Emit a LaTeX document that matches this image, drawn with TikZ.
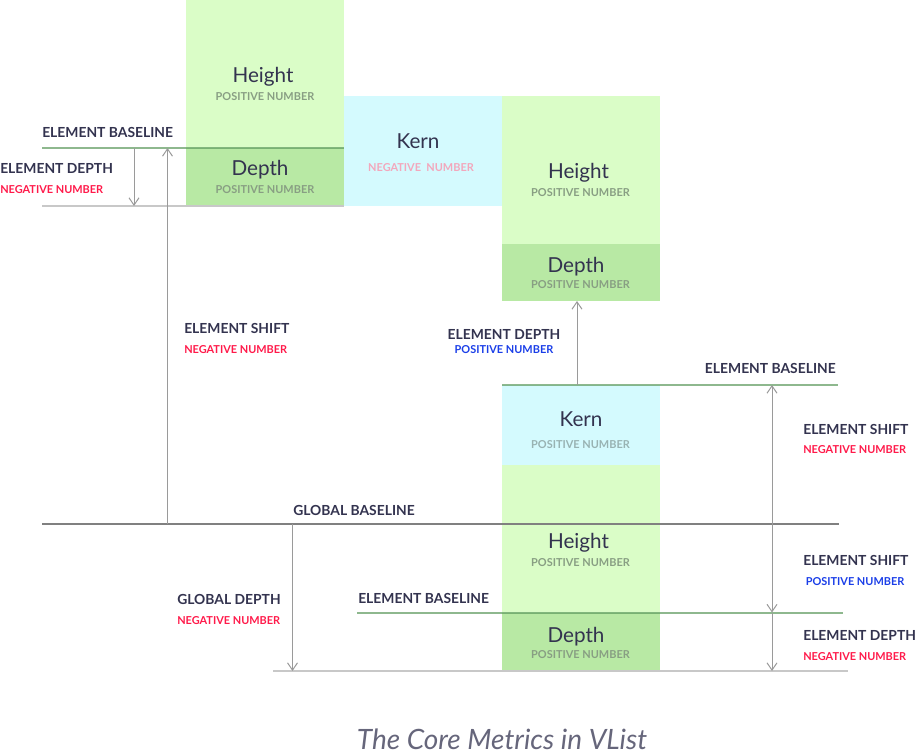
\documentclass[tikz,border=0pt]{standalone}
\usepackage{fontspec}
\setmainfont{Lato}
\usetikzlibrary{arrows.meta}
\definecolor{hgreen}{HTML}{DAFDC7}
\definecolor{dgreen}{HTML}{B8E9A4}
\definecolor{kcyan}{HTML}{D4FAFE}
\definecolor{navy}{HTML}{33334F}
\definecolor{negred}{HTML}{FF1A4A}
\definecolor{posblue}{HTML}{1A3EE8}
\definecolor{boxgray}{HTML}{889E83}
\definecolor{kerngray}{HTML}{98B2B2}
\definecolor{kernpink}{HTML}{F3A7BC}
\definecolor{baseg}{HTML}{5E9A5E}
\definecolor{lightline}{HTML}{C8C8C8}
\definecolor{darkline}{HTML}{808080}
\definecolor{dimgray}{HTML}{9A9A9A}

\begin{document}
\begin{tikzpicture}[x=0.75pt,y=-0.75pt,
    every node/.style={inner sep=0pt},
    big/.style={font=\fontsize{15.5}{18}\selectfont,text=navy,anchor=base},
    sub/.style={font=\bfseries\fontsize{8.2}{10}\selectfont,anchor=base},
    subl/.style={sub,anchor=base west},
    lbl/.style={font=\bfseries\fontsize{10.4}{12}\selectfont,text=navy,anchor=base west},
    elbase/.style={draw=baseg,draw opacity=0.7,line width=1.5pt},
    lowline/.style={draw=lightline,line width=1.5pt},
    globline/.style={draw=darkline,line width=1.5pt}]
    \useasboundingbox (0,0) rectangle (916,755);

    % boxes
    \fill[hgreen] (186,0) rectangle (344,148);
    \fill[dgreen] (186,148) rectangle (344,206);
    \fill[kcyan] (344,96) rectangle (502,206);
    \fill[hgreen] (502,96) rectangle (660,244);
    \fill[dgreen] (502,244) rectangle (660,301);
    \fill[kcyan] (502,385) rectangle (660,465);
    \fill[hgreen] (502,465) rectangle (660,612.5);
    \fill[dgreen] (502,612.5) rectangle (660,671);

    % line ends
    \coordinate (eb1w) at (42,148);   \coordinate (eb1e) at (344,148);
    \coordinate (ed1w) at (42,206);   \coordinate (ed1e) at (344,206);
    \coordinate (eb2w) at (502,385);  \coordinate (eb2e) at (838,385);
    \coordinate (gbw) at (42,524);    \coordinate (gbe) at (839,524);
    \coordinate (eb3w) at (357,612.5); \coordinate (eb3e) at (843,612.5);
    \coordinate (gdw) at (273,671);   \coordinate (gde) at (848,671);

    \draw[elbase] (eb1w) -- (eb1e);
    \draw[lowline] (ed1w) -- (ed1e);
    \draw[elbase] (eb2w) -- (eb2e);
    \draw[globline] (gbw) -- (gbe);
    \draw[elbase] (eb3w) -- (eb3e);
    \draw[lowline] (gdw) -- (gde);

    % arrow ends
    \coordinate (dep1a) at (134,148);   \coordinate (dep1b) at (134,206);
    \coordinate (sh1a) at (167.5,524);  \coordinate (sh1b) at (167.5,148);
    \coordinate (dep2a) at (577,385);   \coordinate (dep2b) at (577,301);
    \coordinate (gdepa) at (292.5,524); \coordinate (gdepb) at (292.5,671);
    \coordinate (sh2a) at (772,524);    \coordinate (sh2b) at (772,385);
    \coordinate (sh3b) at (772,612.5);  \coordinate (dep3b) at (772,671);

    \begin{scope}[>={Straight Barb[length=5.5pt,width=7.5pt]},
        every edge/.style={draw=dimgray,line width=0.75pt}]
        \path [->] (dep1a) edge (dep1b);
        \path [->] (sh1a) edge (sh1b);
        \path [->] (dep2a) edge (dep2b);
        \path [->] (gdepa) edge (gdepb);
        \path [->] (sh2a) edge (sh2b);
        \path [->] (sh2a) edge (sh3b);
        \path [->] (sh3b) edge (dep3b);
    \end{scope}

    % box texts
    \node[big] (h1) at (263,83) {Height};
    \node[sub,text=boxgray] (h1n) at (265,101) {POSITIVE NUMBER};
    \node[big] (d1) at (260,176) {Depth};
    \node[sub,text=boxgray] (d1n) at (265,194) {POSITIVE NUMBER};
    \node[big] (k1) at (418,149) {Kern};
    \node[sub,text=kernpink] (k1n) at (421,172) {NEGATIVE\ \ NUMBER};
    \node[big] (h2) at (578.5,179) {Height};
    \node[sub,text=boxgray] (h2n) at (580.5,197) {POSITIVE NUMBER};
    \node[big] (d2) at (576,272.5) {Depth};
    \node[sub,text=boxgray] (d2n) at (580.5,289) {POSITIVE NUMBER};
    \node[big] (k2) at (581,426) {Kern};
    \node[sub,text=kerngray] (k2n) at (580.5,448) {POSITIVE NUMBER};
    \node[big] (h3) at (578.5,548) {Height};
    \node[sub,text=boxgray] (h3n) at (580.5,566) {POSITIVE NUMBER};
    \node[big] (d3) at (576,642) {Depth};
    \node[sub,text=boxgray] (d3n) at (580.5,658) {POSITIVE NUMBER};

    % metric labels
    \node[lbl] (eb1) at (42,138) {ELEMENT BASELINE};
    \node[lbl] (ed1) at (0,174) {ELEMENT DEPTH};
    \node[subl,text=negred] (ed1n) at (0,194) {NEGATIVE NUMBER};
    \node[lbl] (es1) at (184,333) {ELEMENT SHIFT};
    \node[subl,text=negred] (es1n) at (184,353) {NEGATIVE NUMBER};
    \node[lbl,anchor=base] (ed2) at (504,339) {ELEMENT DEPTH};
    \node[sub,text=posblue] (ed2n) at (504,353) {POSITIVE NUMBER};
    \node[lbl,anchor=base east] (eb2) at (836,373) {ELEMENT BASELINE};
    \node[lbl] (es2) at (803,434) {ELEMENT SHIFT};
    \node[subl,text=negred] (es2n) at (803,453) {NEGATIVE NUMBER};
    \node[lbl,anchor=base] (gb) at (354,515.5) {GLOBAL BASELINE};
    \node[lbl] (gd) at (177,604) {GLOBAL DEPTH};
    \node[subl,text=negred] (gdn) at (177,624) {NEGATIVE NUMBER};
    \node[lbl] (eb3) at (358,603) {ELEMENT BASELINE};
    \node[lbl] (es3) at (803,565.5) {ELEMENT SHIFT};
    \node[subl,text=posblue] (es3n) at (805.5,585) {POSITIVE NUMBER};
    \node[lbl] (ed3) at (803,640.5) {ELEMENT DEPTH};
    \node[subl,text=negred] (ed3n) at (803,660) {NEGATIVE NUMBER};

    \node[font=\itshape\fontsize{21}{25}\selectfont,text=navy!75,anchor=base] (cap) at (502,749) {The Core Metrics in VList};
\end{tikzpicture}
\end{document}
